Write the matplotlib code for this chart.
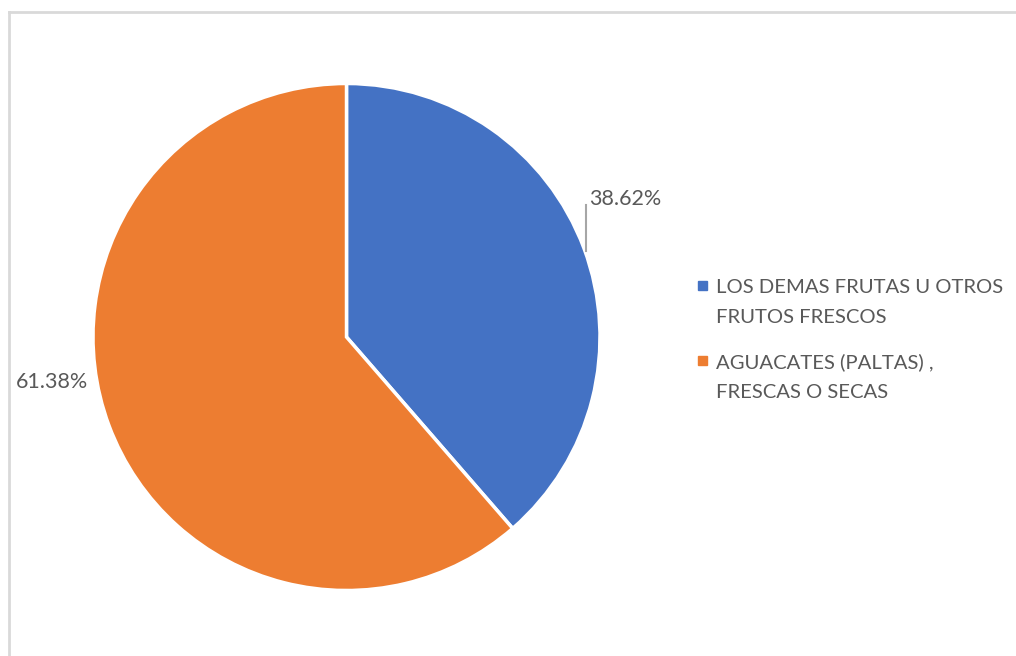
import matplotlib
matplotlib.use("Agg")
import matplotlib.pyplot as plt
from matplotlib.patches import Rectangle
from matplotlib.lines import Line2D
import numpy as np

categories = [["LOS DEMAS FRUTAS U OTROS", "FRUTOS FRESCOS"], ["AGUACATES (PALTAS) ,", "FRESCAS O SECAS"]]
values = [38.62, 61.38]
labels = ["38.62%", "61.38%"]
colors = ["#4472C4", "#ED7D31"]

W, H = 1016, 656
fig = plt.figure(figsize=(W / 100, H / 100), dpi=100)
fig.patch.set_facecolor("white")
plt.rcParams['font.family'] = ['Lato', 'DejaVu Sans']

def fx(px):
    return px / W

def fy(py):
    return 1 - py / H

# border frame
fig.add_artist(Line2D([fx(9), fx(9)], [0, fy(12)], color="#d9d9d9", lw=2, transform=fig.transFigure))
fig.add_artist(Line2D([fx(9), 1], [fy(12), fy(12)], color="#d9d9d9", lw=2, transform=fig.transFigure))

cx, cy, r = 346.5, 337, 253.5
ax = fig.add_axes([(cx - r) / W, (H - cy - r) / H, 2 * r / W, 2 * r / H])
ax.pie(values, colors=colors, startangle=90, counterclock=False,
       wedgeprops=dict(edgecolor="white", linewidth=2.5), radius=1)
ax.set_xlim(-1, 1)
ax.set_ylim(-1, 1)
ax.set_aspect("equal")
ax.axis("off")

txtc = "#595959"
# leader line for first label
fig.add_artist(Line2D([fx(585.7), fx(585.7)], [fy(205), fy(251)], color="#a6a6a6", lw=1.5, transform=fig.transFigure))
fig.text(fx(589), fy(205), labels[0], fontsize=15.5, color=txtc, ha="left", va="baseline")
fig.text(fx(88.5), fy(388), labels[1], fontsize=15.5, color=txtc, ha="right", va="baseline")

# legend
base = [[293, 323], [368, 398]]
for i, (cat, col) in enumerate(zip(categories, colors)):
    y0 = base[i][0]
    fig.add_artist(Rectangle((fx(698), fy(y0 - 3)), 9 / W, 9 / H, color=col, transform=fig.transFigure))
    for line, yb in zip(cat, base[i]):
        fig.text(fx(716), fy(yb), line, fontsize=14.6, color=txtc, ha="left", va="baseline")

fig.savefig("out.png", dpi=100)
